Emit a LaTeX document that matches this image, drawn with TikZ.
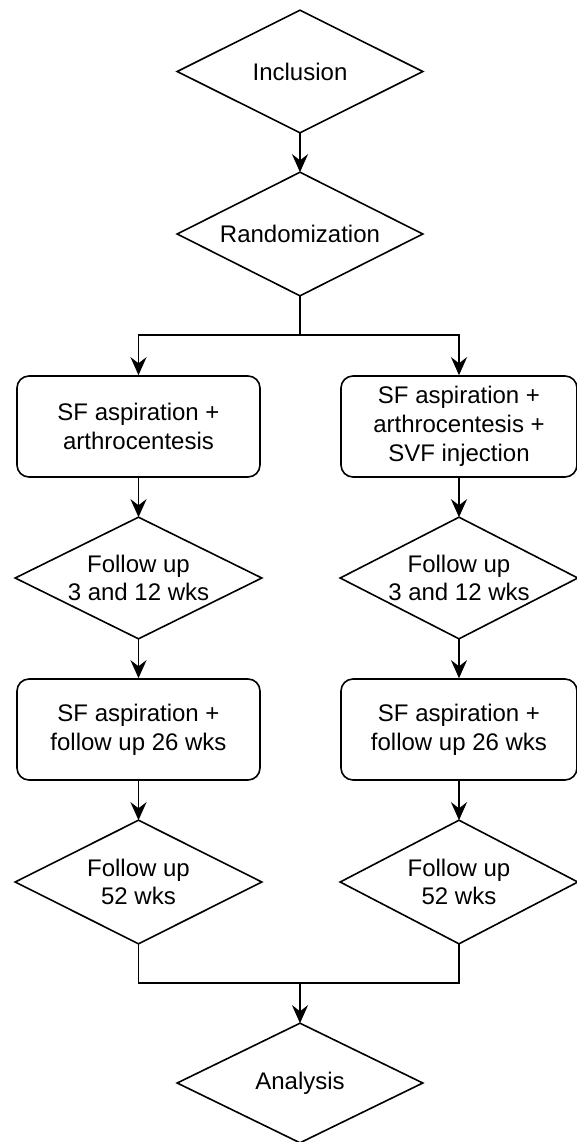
\documentclass[tikz,border=0pt]{standalone}
\usepackage{fontspec}
\setmainfont{Liberation Sans}
\usetikzlibrary{arrows.meta}
\begin{document}
\begin{tikzpicture}[x=0.5pt,y=-0.5pt, line width=0.8pt,
  lab/.style={rectangle, inner sep=0pt, align=center, font=\fontsize{12}{14.4}\selectfont},
  box/.style={lab, draw, rounded corners=6pt},
  arr/.style={-{Stealth[length=9pt,width=8pt,inset=3pt]}},
]
\useasboundingbox (0,0) rectangle (577,1142);
% diamonds (invisible rectangles whose anchors give the corner points)
\node[lab, minimum width=122pt, minimum height=60.5pt] (inc) at (300,71.5) {Inclusion};
\node[lab, minimum width=122pt, minimum height=61pt] (rand) at (300,234) {Randomization};
\node[box, minimum width=121.5pt, minimum height=50.5pt] (l1) at (138.5,426.5) {SF aspiration +\\arthrocentesis};
\node[box, minimum width=118pt, minimum height=50.5pt] (r1) at (459,426.5) {SF aspiration +\\arthrocentesis +\\SVF injection};
\node[lab, minimum width=122.5pt, minimum height=60pt] (l2) at (138.5,578) {Follow up\\3 and 12 wks};
\node[lab, minimum width=118pt, minimum height=60pt] (r2) at (459,578) {Follow up\\3 and 12 wks};
\node[box, minimum width=121.5pt, minimum height=50.5pt] (l3) at (138.5,729.5) {SF aspiration +\\follow up 26 wks};
\node[box, minimum width=118pt, minimum height=50.5pt] (r3) at (459,729.5) {SF aspiration +\\follow up 26 wks};
\node[lab, minimum width=122.5pt, minimum height=61pt] (l4) at (138.5,882) {Follow up\\52 wks};
\node[lab, minimum width=118pt, minimum height=61pt] (r4) at (459,882) {Follow up\\52 wks};
\node[lab, minimum width=122pt, minimum height=59pt] (ana) at (300,1083) {Analysis};
\foreach \n in {inc,rand,l2,r2,l4,r4,ana}
  \draw (\n.north) -- (\n.east) -- (\n.south) -- (\n.west) -- cycle;
% connectors
\coordinate (split) at (300,335);
\coordinate (merge) at (300,983);
\draw[arr] (inc.south) -- (rand.north);
\draw (rand.south) -- (split);
\draw[arr] (split) -| (l1.north);
\draw[arr] (split) -| (r1.north);
\draw[arr] (l1.south) -- (l2.north);
\draw[arr] (r1.south) -- (r2.north);
\draw[arr] (l2.south) -- (l3.north);
\draw[arr] (r2.south) -- (r3.north);
\draw[arr] (l3.south) -- (l4.north);
\draw[arr] (r3.south) -- (r4.north);
\draw (l4.south) |- (merge);
\draw (r4.south) |- (merge);
\draw[arr] (merge) -- (ana.north);
\end{tikzpicture}
\end{document}
